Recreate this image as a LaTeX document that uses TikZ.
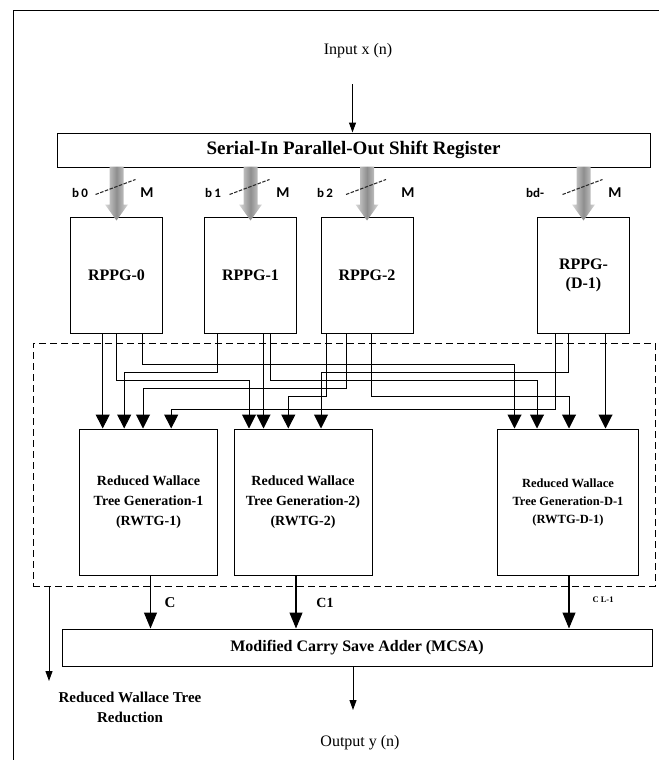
\documentclass[tikz,border=0pt]{standalone}
\usepackage{fontspec}
\setmainfont{Liberation Serif}
\newfontfamily\tagfont{Carlito}
\usetikzlibrary{arrows.meta}
\definecolor{busLight}{HTML}{DADADA}
\definecolor{busDark}{HTML}{8E8E8E}
\definecolor{slashColor}{HTML}{2A2A2A}
\tikzset{
  block/.style={draw, line width=1pt, align=center, inner sep=0pt,
    font=\bfseries\fontsize{16}{19}\selectfont},
  rppg/.style={block, minimum width=92pt, minimum height=116pt},
  rwtg/.style={block, minimum width=138pt, minimum height=146pt,
    font=\bfseries\fontsize{14}{20}\selectfont},
  wire/.style={line width=1pt, -{Triangle[width=14pt,length=14pt]}},
  flow/.style={line width=1pt, -{Triangle[width=7pt,length=10pt]}},
  carry/.style={line width=1.1pt, -{Triangle[width=13pt,length=16pt]}},
  tag/.style={font=\tagfont\bfseries\fontsize{13}{15}\selectfont},
}
% one partial product line: source box, source x, target box, target x, track y
\newcommand{\feed}[5]{\draw[wire] (#1.south -| #2,0) |- (#4,#5) -- (#3.north -| #4,0);}

\begin{document}
\begin{tikzpicture}[x=1pt, y=-1pt]
  \useasboundingbox (0,0) rectangle (659,760);
  \draw[line width=1.6pt] (13.5,760) -- (13.5,10.5) -- (659,10.5);

  % input and shift register
  \node[font=\fontsize{16}{19}\selectfont] (lblIn) at (358,51) {Input x (n)};
  \coordinate (inTop) at (352.5,84);
  \node[block, minimum width=593pt, minimum height=34pt,
    font=\bfseries\fontsize{19}{22}\selectfont] (sipo) at (353.5,150)
    {Serial-In Parallel-Out Shift Register};
  \draw[flow] (inTop) -- (sipo.north -| inTop);

  % partial product generators
  \node[rppg] (rppg0) at (116.5,275) {RPPG-0};
  \node[rppg] (rppg1) at (250.5,275) {RPPG-1};
  \node[rppg] (rppg2) at (367,275) {RPPG-2};
  \node[rppg] (rppgD) at (583.5,275) {RPPG-\\(D-1)};

  % M-bit buses
  \foreach \b/\bx/\bt/\mx [count=\i] in {rppg0/80/b\,0/147, rppg1/213/b\,1/283,
      rppg2/325/b\,2/408, rppgD/535/bd-/615} {
    \begin{scope}[shift={(\b.north)}]
      \shade[left color=busLight, right color=busLight, middle color=busDark]
        (-7,-50) -- (7,-50) -- (7,-12) -- (11.5,-12) -- (0,4)
        -- (-11.5,-12) -- (-7,-12) -- cycle;
      \draw[slashColor, line width=1.1pt, dash pattern=on 3.5pt off 1.5pt]
        (-21,-22) -- (19,-37);
    \end{scope}
    \node[tag] (btag\i) at (\bx,193) {\bt};
    \node[tag, font=\tagfont\bfseries\fontsize{15}{17}\selectfont] (mtag\i) at (\mx,193) {M};
  }

  % reduced Wallace tree region
  \node[draw, line width=0.9pt, dash pattern=on 7pt off 4pt, inner sep=0pt,
    minimum width=622pt, minimum height=243pt] (rwtr) at (344,464.5) {};
  \node[rwtg] (rwtg1) at (148.5,502) {Reduced Wallace\\Tree Generation-1\\(RWTG-1)};
  \node[rwtg] (rwtg2) at (303,502) {Reduced Wallace\\Tree Generation-2)\\(RWTG-2)};
  \node[rwtg, minimum width=141pt, font=\bfseries\fontsize{12.5}{18}\selectfont]
    (rwtgD) at (568,502) {Reduced Wallace\\Tree Generation-D-1\\(RWTG-D-1)};

  \feed{rppg0}{102.7}{rwtg1}{102.7}{380}
  \feed{rppg0}{116.7}{rwtg2}{249}{380}
  \feed{rppg0}{142.7}{rwtgD}{514.5}{364}
  \feed{rppg1}{217.2}{rwtg1}{124.2}{372}
  \feed{rppg1}{263.5}{rwtg2}{263.5}{380}
  \feed{rppg1}{270.5}{rwtgD}{537}{380}
  \feed{rppg2}{326.5}{rwtg2}{288.3}{396}
  \feed{rppg2}{346.7}{rwtg1}{143}{388}
  \feed{rppg2}{371.3}{rwtgD}{569}{396}
  \feed{rppgD}{555.3}{rwtg1}{171.2}{409}
  \feed{rppgD}{568.7}{rwtg2}{321}{372}
  \feed{rppgD}{605.5}{rwtgD}{605.5}{380}

  % carry save adder
  \node[block, minimum width=590pt, minimum height=37pt] (mcsa) at (357,647.5)
    {Modified Carry Save Adder (MCSA)};
  \draw[carry] (rwtg1.south -| 150.5,0) -- (mcsa.north -| 150.5,0);
  \draw[carry] (rwtg2.south -| 296,0) -- (mcsa.north -| 296,0);
  \draw[carry] (rwtgD.south -| 569,0) -- (mcsa.north -| 569,0);
  \node[font=\bfseries\fontsize{15}{17}\selectfont] (lblC) at (170,603) {C};
  \node[font=\bfseries\fontsize{14}{16}\selectfont] (lblC1) at (325,603) {C1};
  \node[font=\bfseries\fontsize{8.5}{10}\selectfont] (lblCL) at (603,600) {C L-1};

  % outputs
  \coordinate (redEnd) at (49,681);
  \draw[flow] (rwtr.south -| redEnd) -- (redEnd);
  \node[align=center, font=\bfseries\fontsize{15}{20}\selectfont] (lblRed) at (130,707)
    {Reduced Wallace Tree\\Reduction};
  \coordinate (outEnd) at (353,710);
  \draw[flow] (mcsa.south -| outEnd) -- (outEnd);
  \node[font=\fontsize{16}{19}\selectfont] (lblOut) at (360,743) {Output y (n)};
\end{tikzpicture}
\end{document}
